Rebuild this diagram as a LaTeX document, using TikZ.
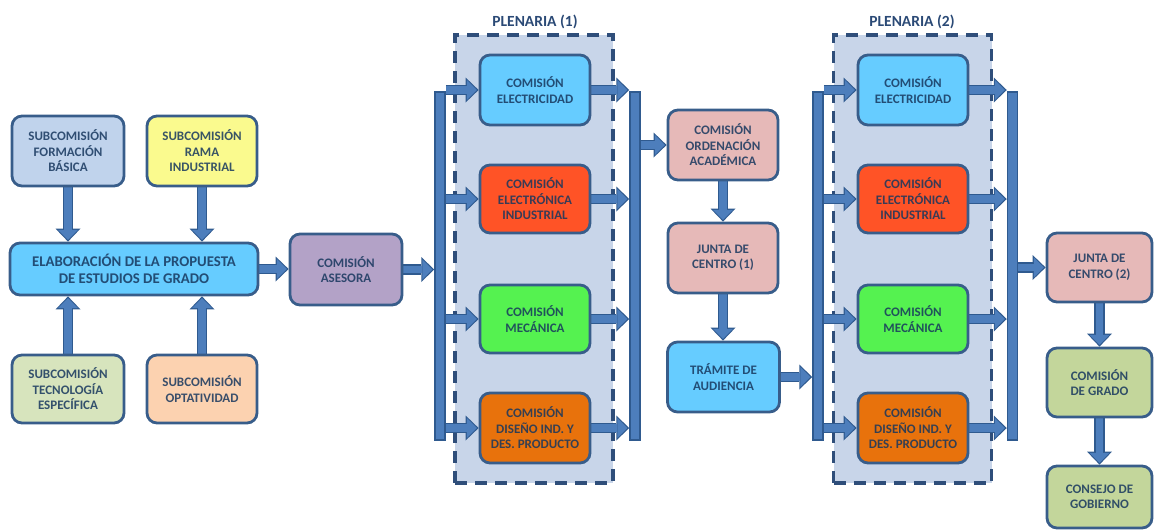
\documentclass[tikz,border=0pt]{standalone}
\usepackage{fontspec}
\setmainfont{Carlito}
\usetikzlibrary{arrows.meta}
\pgfdeclarelayer{plen}
\pgfdeclarelayer{conn}
\pgfsetlayers{plen,conn,main}
\definecolor{boxline}{HTML}{385D8A}
\definecolor{arrline}{HTML}{2F5A8F}
\definecolor{arrfill}{HTML}{4D7EBC}
\definecolor{txt}{HTML}{17375E}
\definecolor{ttl}{HTML}{2B4A76}
\definecolor{plenfill}{HTML}{C8D5E9}
\definecolor{plenline}{HTML}{2F4E7A}
\definecolor{cPaleBlue}{HTML}{C0D3EC}
\definecolor{cYellow}{HTML}{FAFA8E}
\definecolor{cSky}{HTML}{66CCFF}
\definecolor{cOlive}{HTML}{D7E4BD}
\definecolor{cPeach}{HTML}{FCD2B0}
\definecolor{cLilac}{HTML}{B3A2C7}
\definecolor{cRed}{HTML}{FF5326}
\definecolor{cGreen}{HTML}{55F250}
\definecolor{cOrange}{HTML}{E8720C}
\definecolor{cRose}{HTML}{E6B9B8}
\definecolor{cSage}{HTML}{C3D69B}
\tikzset{
  box/.style={draw=boxline, line width=2.8pt, rounded corners=10pt,
    minimum width=110pt, minimum height=70pt, inner sep=0pt, align=center,
    text=txt, text opacity=0.85, font=\bfseries\fontsize{13}{15.5}\selectfont},
  bigbox/.style={box, font=\bfseries\fontsize{14.8}{17.3}\selectfont},
  bus/.style={draw=arrline, fill=arrfill, line width=1.5pt, minimum width=10pt,
    minimum height=348pt, inner sep=0pt},
  plenbox/.style={draw=plenline, fill=plenfill, line width=3.3pt,
    dash pattern=on 12pt off 8pt, minimum width=158pt, minimum height=448pt, inner sep=0pt},
  ttlnode/.style={text=ttl, font=\bfseries\fontsize{15.5}{18}\selectfont, inner sep=0pt},
  arrout/.style={draw=arrline, line width=10.5pt,
    -{Triangle[width=25pt,length=13pt,line width=0pt]}},
  arrin/.style={draw=arrfill, line width=7.5pt,
    -{Triangle[width=20pt,length=10pt,line width=0pt]}, shorten >=1.8pt},
}
\newcommand{\conn}[2]{%
  \begin{pgfonlayer}{conn}
  \draw[arrout] #1 -- #2;
  \draw[arrin] #1 -- #2;
  \end{pgfonlayer}}
\begin{document}
\begin{tikzpicture}[x=1pt,y=-1pt]
\useasboundingbox (0,0) rectangle (1155,531);
% plenaria areas
\begin{pgfonlayer}{plen}
\node[plenbox] (p1) at (534,259) {};
\node[plenbox] (p2) at (912.5,259) {};
\end{pgfonlayer}
\node[ttlnode] (t1) at (535,22) {PLENARIA (1)};
\node[ttlnode] (t2) at (912,22) {PLENARIA (2)};
% left part
\node[box, fill=cPaleBlue, minimum width=112pt] (fb) at (68,151) {SUBCOMISIÓN\\FORMACIÓN\\BÁSICA};
\node[box, fill=cYellow] (ri) at (202,151) {SUBCOMISIÓN\\RAMA\\INDUSTRIAL};
\node[bigbox, fill=cSky, minimum width=248pt, minimum height=52pt] (el) at (134,269) {ELABORACIÓN DE LA PROPUESTA\\DE ESTUDIOS DE GRADO};
\node[box, fill=cOlive, minimum width=112pt, minimum height=68pt] (te) at (68,389) {SUBCOMISIÓN\\TECNOLOGÍA\\ESPECÍFICA};
\node[box, fill=cPeach, minimum height=68pt] (op) at (202,389) {SUBCOMISIÓN\\OPTATIVIDAD};
\node[box, fill=cLilac, minimum width=112pt, minimum height=71pt] (as) at (346,269.5) {COMISIÓN\\ASESORA};
% plenaria 1
\node[bus] (b1) at (440,266) {};
\node[bus] (b2) at (635,266) {};
\node[box, fill=cSky] (e1) at (535,90) {COMISIÓN\\ELECTRICIDAD};
\node[box, fill=cRed, minimum height=68pt] (n1) at (535,199) {COMISIÓN\\ELECTRÓNICA\\INDUSTRIAL};
\node[box, fill=cGreen, minimum height=68pt] (m1) at (535,319) {COMISIÓN\\MECÁNICA};
\node[box, fill=cOrange] (d1) at (535,428) {COMISIÓN\\DISEÑO IND. Y\\DES. PRODUCTO};
% middle column
\node[box, fill=cRose] (or) at (723,145) {COMISIÓN\\ORDENACIÓN\\ACADÉMICA};
\node[box, fill=cRose] (j1) at (723,258) {JUNTA DE\\CENTRO (1)};
\node[box, fill=cSky, minimum width=112pt] (tr) at (723.5,377) {TRÁMITE DE\\AUDIENCIA};
% plenaria 2
\node[bus] (b3) at (818,266) {};
\node[bus] (b4) at (1012.5,266) {};
\node[box, fill=cSky] (e2) at (913,90) {COMISIÓN\\ELECTRICIDAD};
\node[box, fill=cRed, minimum height=68pt] (n2) at (913,199) {COMISIÓN\\ELECTRÓNICA\\INDUSTRIAL};
\node[box, fill=cGreen, minimum height=68pt] (m2) at (913,319) {COMISIÓN\\MECÁNICA};
\node[box, fill=cOrange] (d2) at (913,428) {COMISIÓN\\DISEÑO IND. Y\\DES. PRODUCTO};
% right column
\node[box, fill=cRose, minimum width=105pt, minimum height=69pt] (j2) at (1099.5,267.5) {JUNTA DE\\CENTRO (2)};
\node[box, fill=cSage, minimum width=105pt, minimum height=69pt] (gr) at (1099.5,382.5) {COMISIÓN\\DE GRADO};
\node[box, fill=cSage, minimum width=105pt, minimum height=62pt] (cg) at (1099.5,497) {CONSEJO DE\\GOBIERNO};
% connectors
\conn{(fb.south)}{(fb.south |- el.north)}
\conn{(ri.south)}{(ri.south |- el.north)}
\conn{(te.north)}{(te.north |- el.south)}
\conn{(op.north)}{(op.north |- el.south)}
\conn{(el.east)}{(el.east -| as.west)}
\conn{(as.east)}{(as.east -| b1.west)}
\foreach \n in {e1,n1,m1,d1}{
  \conn{(b1.east |- \n.west)}{(\n.west)}
  \conn{(\n.east)}{(\n.east -| b2.west)}
}
\conn{(b2.east |- or.west)}{(or.west)}
\conn{(or.south)}{(j1.north)}
\conn{(j1.south)}{(j1.south |- tr.north)}
\conn{(tr.east)}{(tr.east -| b3.west)}
\foreach \n in {e2,n2,m2,d2}{
  \conn{(b3.east |- \n.west)}{(\n.west)}
  \conn{(\n.east)}{(\n.east -| b4.west)}
}
\conn{(b4.east |- j2.west)}{(j2.west)}
\conn{(j2.south)}{(gr.north)}
\conn{(gr.south)}{(cg.north)}
\end{tikzpicture}
\end{document}
